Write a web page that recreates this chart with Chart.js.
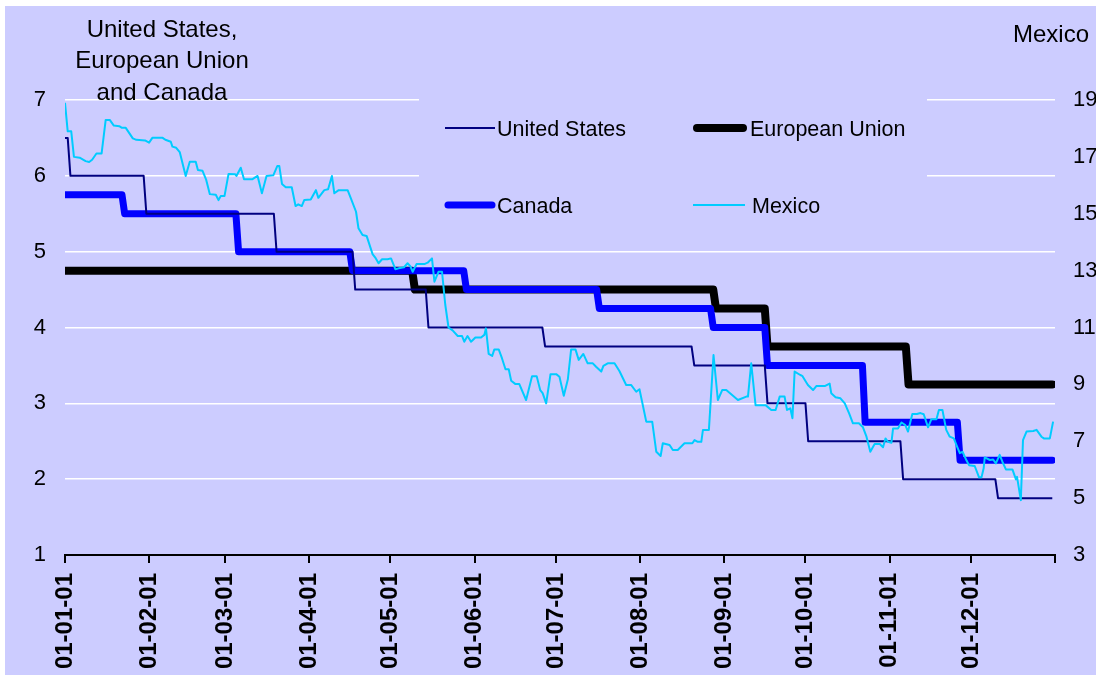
<!DOCTYPE html>
<html>
<head>
<meta charset="utf-8">
<script src="https://cdn.jsdelivr.net/npm/chart.js@4.4.1/dist/chart.umd.min.js"></script>
<style>
  html, body { margin: 0; padding: 0; background: #ffffff; }
  #wrap { position: absolute; left: 5px; top: 6px; width: 1091px; height: 669px; background: #CCCCFF; overflow: hidden; }
  canvas { display: block; }
</style>
</head>
<body>
<div id="wrap"><canvas id="chart" width="1091" height="669"></canvas></div>
<script>
// Policy and money-market interest rates during 2001 (per cent).
// Days are counted from 1 January 2001 (day 0).

// Month ticks on the time axis
const monthStartDays = [0, 31, 59, 90, 120, 151, 181, 212, 243, 273, 304, 334];
const monthLabels = ['01-01-01', '01-02-01', '01-03-01', '01-04-01', '01-05-01', '01-06-01',
                     '01-07-01', '01-08-01', '01-09-01', '01-10-01', '01-11-01', '01-12-01'];
const yearEndDay = 365;
const lastDataDay = 364;

// United States: day each rate took effect, and the rate
const usChangeDays = [0, 2, 30, 78, 107, 134, 177, 232, 259, 274, 309, 344];
const usRates      = [6.5, 6.0, 5.5, 5.0, 4.5, 4.0, 3.75, 3.5, 3.0, 2.5, 2.0, 1.75];

// European Union
const euChangeDays = [0, 129, 240, 259, 311];
const euRates      = [4.75, 4.5, 4.25, 3.75, 3.25];

// Canada
const caChangeDays = [0, 22, 64, 106, 148, 197, 239, 259, 295, 330];
const caRates      = [5.75, 5.5, 5.0, 4.75, 4.5, 4.25, 4.0, 3.5, 2.75, 2.25];

// Mexico (right-hand scale): observation day and rate
const mxDays = [0, 1, 2.3, 3.3, 5.4, 7.6, 8.9, 10, 11.6, 13.5, 15, 16.5, 18, 20, 21, 22.4, 25, 26.3, 29.5, 31,
  32.2, 36, 37, 39, 39.6, 41, 42.3, 44.5, 46, 48.2, 49, 50.7, 52, 53.4, 55.6, 56.6, 57.4, 58.8, 60.3, 62.7,
  63.2, 64.8, 66, 69, 71, 72.6, 74.3, 76.8, 78.3, 79, 80, 81.4, 83.6, 85, 86, 87.3, 88.2, 90.6, 92.5, 93.4,
  95.6, 97, 98.4, 99.3, 100.9, 104.2, 105.4, 107.3, 108.2, 109.7, 111.2, 113.4, 114.6, 115.6, 116.9, 118.9, 120.2, 121.8, 123, 125,
  126.3, 127.3, 128.2, 129.6, 132.5, 133.7, 135.3, 136.2, 137.7, 139, 140.2, 141.4, 142.9, 144.8, 146.4, 147.2, 148.4, 149.7, 151.3, 153.4,
  154.6, 155.2, 156.2, 157.5, 158.3, 159.9, 161.1, 162.4, 163.6, 164.5, 166.1, 167.5, 170, 172.2, 173.9, 175.2, 176.1, 177.4, 179, 181.1,
  182.3, 183.9, 185.4, 186.6, 188.2, 189.4, 191.1, 192.7, 194.6, 195.8, 197.7, 198.5, 200.1, 202.6, 204.4, 206.9, 208.7, 210.6, 211.8, 214.3,
  216.5, 218, 219.6, 220.4, 222.9, 224.1, 225.9, 228.4, 231.3, 232.1, 233.3, 234.6, 235.2, 237.4, 239.1, 240.7, 242.3, 243.8, 248.1, 251.2,
  251.8, 253, 254.6, 258.3, 260.4, 262, 263.5, 265.3, 266.2, 267.4, 268.2, 269, 271.1, 271.8, 273.9, 275.8, 277, 280.1, 281.9, 282.5,
  284.1, 285.9, 287.5, 289.1, 290.5, 292.7, 294.2, 295.5, 296.9, 298.5, 300.4, 301.6, 302.5, 303.4, 304.7, 305.3, 307.1, 308.4, 309.8, 310.8,
  312.4, 314.1, 315.4, 316.6, 318.2, 319.4, 321.3, 322.2, 323.5, 324.9, 326.2, 327.7, 328.9, 329.9, 330.9, 332.4, 333.3, 335.4, 337, 337.9,
  338.7, 339.1, 341, 342.2, 343.2, 344.6, 345.6, 346.9, 349.3, 350.6, 351, 352.4, 353.2, 354.5, 357, 358.2, 360, 360.9, 363.1, 364.3];
const mxRates = [18.9, 17.9, 17.9, 17.0, 16.97, 16.85, 16.82, 16.9, 17.12, 17.12, 18.3, 18.3, 18.1, 18.08, 18.02, 18.02, 17.65, 17.6, 17.58, 17.5,
  17.67, 17.67, 17.6, 17.53, 17.36, 17.32, 17.17, 16.33, 16.83, 16.83, 16.54, 16.51, 16.21, 15.69, 15.67, 15.48, 15.62, 15.62, 16.4, 16.39,
  16.33, 16.62, 16.21, 16.21, 16.33, 15.72, 16.33, 16.35, 16.68, 16.68, 16.05, 15.93, 15.93, 15.27, 15.33, 15.27, 15.48, 15.5, 15.83, 15.56,
  15.83, 15.86, 16.33, 15.72, 15.83, 15.83, 15.54, 15.07, 14.49, 14.25, 14.22, 13.58, 13.43, 13.26, 13.4, 13.4, 13.43, 13.05, 13.08, 13.12,
  13.26, 13.16, 12.96, 13.23, 13.23, 13.28, 13.43, 12.61, 12.96, 12.96, 11.8, 11.0, 10.9, 10.7, 10.7, 10.5, 10.7, 10.5, 10.65, 10.65,
  10.74, 10.97, 10.07, 10.0, 10.23, 10.23, 9.92, 9.53, 9.53, 9.13, 9.01, 9.01, 8.45, 9.29, 9.29, 8.8, 8.69, 8.33, 9.36, 9.36,
  9.27, 8.6, 9.18, 10.23, 10.23, 9.86, 10.07, 9.74, 9.74, 9.62, 9.45, 9.65, 9.74, 9.74, 9.47, 8.98, 8.98, 8.74, 8.83, 7.69,
  7.69, 6.63, 6.48, 6.93, 6.87, 6.69, 6.69, 6.93, 6.93, 7.04, 6.98, 6.98, 7.4, 7.4, 10.03, 8.45, 8.8, 8.8, 8.45, 8.57,
  8.57, 9.74, 8.27, 8.27, 8.1, 8.1, 8.57, 8.57, 8.1, 8.16, 7.81, 9.45, 9.33, 9.3, 8.98, 8.8, 8.94, 8.94, 9.03, 8.69,
  8.55, 8.51, 8.33, 7.98, 7.63, 7.63, 7.49, 7.16, 6.63, 6.9, 6.9, 6.79, 7.1, 6.98, 6.95, 7.45, 7.45, 7.66, 7.57, 7.34,
  7.96, 7.96, 7.99, 7.95, 7.49, 7.77, 7.77, 8.1, 8.1, 7.4, 7.16, 7.1, 6.81, 6.58, 6.63, 6.32, 6.16, 6.13, 5.73, 5.73,
  6.05, 6.43, 6.34, 6.36, 6.22, 6.52, 6.28, 6.01, 6.01, 5.66, 5.75, 4.93, 7.04, 7.34, 7.36, 7.4, 7.16, 7.1, 7.1, 7.69];

// Axis ranges
const leftMin = 1, leftMax = 7, leftStep = 1;
const rightMin = 3, rightMax = 19, rightStep = 2;

// A rate holds until the day before the next change, then moves to the new level.
function stepPoints(days, rates) {
  const pts = [];
  for (let i = 0; i < days.length; i++) {
    if (i > 0) pts.push({ x: days[i] - 1, y: rates[i - 1] });
    pts.push({ x: days[i], y: rates[i] });
  }
  pts.push({ x: lastDataDay, y: rates[rates.length - 1] });
  return pts;
}
function pairPoints(days, rates) {
  return days.map((d, i) => ({ x: d, y: rates[i] }));
}

const FONT = '"Liberation Sans", Arial, Helvetica, sans-serif';

// Legend slots: [line start x, line end x, text x, row y] in canvas pixels
const legendSlots = {
  'United States':  [440, 490, 492, 122],
  'European Union': [692, 738, 745, 122],
  'Canada':         [443, 487, 492, 199],
  'Mexico':         [688, 740, 747, 199]
};
const legendBox = { left: 414, top: 88, right: 922, bottom: 234 };

const legendAndTitles = {
  id: 'legendAndTitles',
  beforeDatasetsDraw(chart) {
    const c = chart.ctx;
    c.save();
    c.fillStyle = '#CCCCFF';
    c.fillRect(legendBox.left, legendBox.top, legendBox.right - legendBox.left, legendBox.bottom - legendBox.top);
    c.restore();
  },
  afterDraw(chart) {
    const c = chart.ctx;
    c.save();
    // axis titles
    c.fillStyle = '#000';
    c.font = '24px ' + FONT;
    c.textAlign = 'center';
    c.textBaseline = 'alphabetic';
    ['United States,', 'European Union', 'and Canada'].forEach((t, i) => {
      c.fillText(t, 157, 30.5 + i * 31.5);
    });
    c.textAlign = 'left';
    c.fillText('Mexico', 1008, 36);

    // legend
    c.font = '21.5px ' + FONT;
    chart.data.datasets.forEach(ds => {
      const s = legendSlots[ds.label];
      if (!s) return;
      c.beginPath();
      c.strokeStyle = ds.borderColor;
      c.lineWidth = ds.borderWidth;
      c.lineCap = ds.borderCapStyle || 'butt';
      c.moveTo(s[0], s[3]);
      c.lineTo(s[1], s[3]);
      c.stroke();
      c.fillStyle = '#000';
      c.fillText(ds.label, s[2], s[3] + 21.5 * 0.358);
    });
    c.restore();
  }
};

new Chart(document.getElementById('chart'), {
  type: 'line',
  data: {
    datasets: [
      {
        label: 'Mexico', yAxisID: 'y2',
        data: pairPoints(mxDays, mxRates),
        borderColor: '#00CCFF', borderWidth: 2, pointRadius: 0, tension: 0,
        borderJoinStyle: 'round', borderCapStyle: 'butt'
      },
      {
        label: 'United States', yAxisID: 'y',
        data: stepPoints(usChangeDays, usRates),
        borderColor: '#000080', borderWidth: 2, pointRadius: 0, tension: 0,
        borderJoinStyle: 'round', borderCapStyle: 'butt'
      },
      {
        label: 'Canada', yAxisID: 'y',
        data: stepPoints(caChangeDays, caRates),
        borderColor: '#0000FF', borderWidth: 7, pointRadius: 0, tension: 0,
        borderJoinStyle: 'round', borderCapStyle: 'round'
      },
      {
        label: 'European Union', yAxisID: 'y',
        data: stepPoints(euChangeDays, euRates),
        borderColor: '#000000', borderWidth: 8, pointRadius: 0, tension: 0,
        borderJoinStyle: 'round', borderCapStyle: 'round'
      }
    ]
  },
  options: {
    responsive: false,
    devicePixelRatio: 1,
    animation: false,
    parsing: false,
    normalized: true,
    layout: { padding: { left: 0, top: 94, right: 0, bottom: 0 } },
    plugins: { legend: { display: false }, tooltip: { enabled: false }, title: { display: false } },
    scales: {
      x: {
        type: 'linear',
        min: 0, max: yearEndDay,
        afterBuildTicks(scale) {
          scale.ticks = monthStartDays.map(v => ({ value: v })).concat([{ value: yearEndDay }]);
        },
        afterFit(scale) { scale.height = 120; },
        grid: { display: true, drawOnChartArea: false, drawTicks: true, tickLength: 8, color: '#000', lineWidth: 2 },
        border: { display: true, color: '#000', width: 2 },
        ticks: {
          autoSkip: false, minRotation: 90, maxRotation: 90, padding: 10,
          color: '#000', font: { family: FONT, size: 24, weight: 'bold' },
          callback: (v, i) => (i < monthLabels.length ? monthLabels[i] : '')
        }
      },
      y: {
        position: 'left',
        min: leftMin, max: leftMax,
        afterFit(scale) { scale.width = 60; },
        grid: {
          drawTicks: false,
          color: ctx => (ctx.tick && ctx.tick.value === leftMin ? 'rgba(0,0,0,0)' : '#FFFFFF'),
          lineWidth: 1.5
        },
        border: { display: false },
        ticks: { stepSize: leftStep, padding: 19, color: '#000', font: { family: FONT, size: 22 } }
      },
      y2: {
        position: 'right',
        min: rightMin, max: rightMax,
        afterFit(scale) { scale.width = 41; },
        grid: { drawOnChartArea: false, drawTicks: false },
        border: { display: false },
        ticks: { stepSize: rightStep, padding: 18, color: '#000', font: { family: FONT, size: 22 } }
      }
    }
  },
  plugins: [legendAndTitles]
});
</script>
</body>
</html>
